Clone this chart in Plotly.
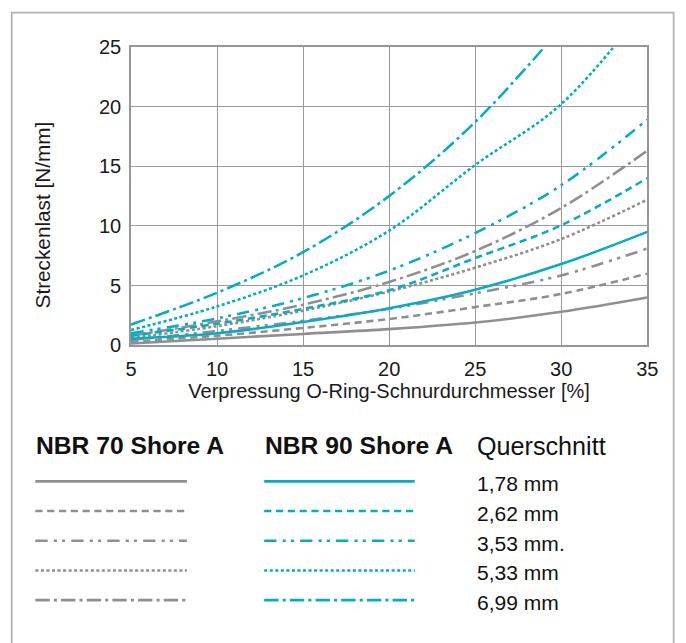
import plotly.graph_objects as go

# Compression of the O-ring cross-section [%]
compression = [5, 10, 15, 20, 25, 30, 35]

# Cross-section sizes
sizes = ["1,78 mm", "2,62 mm", "3,53 mm.", "5,33 mm", "6,99 mm"]

# Line load [N/mm], NBR 70 Shore A
nbr70_178 = [0.15, 0.55, 0.95, 1.35, 1.9, 2.8, 4.0]
nbr70_262 = [0.3, 0.8, 1.45, 2.2, 3.2, 4.3, 6.0]
nbr70_353 = [0.45, 1.2, 2.05, 3.05, 4.35, 5.85, 8.1]
nbr70_533 = [0.6, 1.6, 2.9, 4.5, 6.5, 8.9, 12.2]
nbr70_699 = [0.8, 2.0, 3.4, 5.3, 7.9, 11.5, 16.3]

# Line load [N/mm], NBR 90 Shore A (None = beyond the plotted range)
nbr90_178 = [0.55, 1.0, 1.95, 3.1, 4.65, 6.8, 9.5]
nbr90_262 = [0.8, 1.8, 3.05, 4.6, 7.3, 10.05, 14.0]
nbr90_353 = [1.0, 2.25, 3.95, 6.25, 9.4, 13.4, 18.9]
nbr90_533 = [1.27, 3.25, 5.85, 9.6, 15.1, 20.2, 28.5]
nbr90_699 = [1.74, 4.4, 7.8, 12.5, 18.7, 26.6, None]

series70 = [nbr70_178, nbr70_262, nbr70_353, nbr70_533, nbr70_699]
series90 = [nbr90_178, nbr90_262, nbr90_353, nbr90_533, nbr90_699]

# Figure size and the page box it sits in (default 8px body margin)
W, H = 686, 643
OFF = 8
KX = 706 / W
KY = (H + 2 * OFF) / H
K = (KX + KY) / 2


def fx(p):
    """Layout position (px on the final canvas) -> paper x fraction."""
    return (p * KX - OFF) / W


def fy(p):
    return 1 - (p * KY - OFF) / H


def px(v):
    return round(v * K, 2)


GREY = "#8f8f8f"
CYAN = "#03adc6"
DASH_PATTERNS = [
    None,
    [7, 4.5],
    [12, 6, 3, 5, 3, 6],
    [3, 2.4],
    [14, 4, 3, 4],
]
DASHES = ["solid" if d is None else ",".join(f"{px(v)}px" for v in d)
          for d in DASH_PATTERNS]
LW = px(2.5)
SANS = "Liberation Sans, Arial, sans-serif"
TEXT = "#1a1a1a"

fig = go.Figure()


def clean(xs, ys):
    pts = [(x, y) for x, y in zip(xs, ys) if y is not None]
    return [p[0] for p in pts], [p[1] for p in pts]


# Curves: grey NBR 70 first, cyan NBR 90 on top
for color, group in ((GREY, series70), (CYAN, series90)):
    for vals, dash in zip(group, DASHES):
        xs, ys = clean(compression, vals)
        fig.add_trace(go.Scatter(
            x=xs, y=ys, mode="lines", line_shape="spline",
            line=dict(color=color, width=LW, dash=dash),
            showlegend=False, hoverinfo="skip",
            xaxis="x", yaxis="y",
        ))

# Legend block drawn on a hidden canvas-pixel axis
COL70 = (37, 188)
COL90 = (265, 415)
LABEL_X = 476
ROW0, ROW_STEP = 483, 30
HEAD_Y = 447

for i, dash in enumerate(DASHES):
    yrow = ROW0 + i * ROW_STEP
    for color, (xa, xb) in ((GREY, COL70), (CYAN, COL90)):
        fig.add_trace(go.Scatter(
            x=[xa, xb], y=[yrow, yrow], mode="lines",
            line=dict(color=color, width=LW, dash=dash),
            showlegend=False, hoverinfo="skip",
            xaxis="x2", yaxis="y2",
        ))

annotations = []
for text, x0, bold in (("NBR 70 Shore A", COL70[0], True),
                       ("NBR 90 Shore A", COL90[0], True),
                       ("Querschnitt", LABEL_X, False)):
    annotations.append(dict(
        x=x0 - 1, y=HEAD_Y, xref="x2", yref="y2",
        text=f"<b>{text}</b>" if bold else text,
        showarrow=False, xanchor="left", yanchor="middle",
        font=dict(family=SANS, size=px(24 if bold else 24.5), color="#111111"),
    ))
for i, label in enumerate(sizes):
    annotations.append(dict(
        x=LABEL_X - 1, y=ROW0 + i * ROW_STEP + 2.5, xref="x2", yref="y2",
        text=label, showarrow=False, xanchor="left", yanchor="middle",
        font=dict(family=SANS, size=px(20.5), color="#111111"),
    ))

# Y-axis title, set a little below the middle of the plot area
annotations.append(dict(
    x=44, y=214, xref="x2", yref="y2", text="Streckenlast [N/mm]",
    textangle=-90, showarrow=False, xanchor="center", yanchor="middle",
    font=dict(family=SANS, size=px(20.2), color=TEXT),
))

# Plot area edges on the canvas
PL, PR, PT, PB = 132.3, 646.7, 44.0, 345.5

axis_common = dict(
    showgrid=True, gridcolor="#9a9a9a", gridwidth=1,
    showline=True, linecolor="#969696", linewidth=1.6, mirror=True,
    ticks="outside", tickcolor="rgba(0,0,0,0)", zeroline=False,
    tickfont=dict(family=SANS, size=px(19.5), color=TEXT),
)

fig.update_layout(
    width=W, height=H,
    margin=dict(l=0, r=0, t=0, b=0),
    paper_bgcolor="white", plot_bgcolor="rgba(0,0,0,0)",
    xaxis=dict(
        domain=[fx(PL), fx(PR)], range=[5, 35],
        tickvals=[5, 10, 15, 20, 25, 30, 35], ticklen=5,
        title=dict(text="Verpressung O-Ring-Schnurdurchmesser [%]",
                   font=dict(family=SANS, size=px(19.5), color=TEXT), standoff=5),
        anchor="y", **axis_common,
    ),
    yaxis=dict(
        domain=[fy(PB), fy(PT)], range=[0, 25],
        tickvals=[0, 5, 10, 15, 20, 25], ticklen=4,
        anchor="x", **axis_common,
    ),
    xaxis2=dict(domain=[0, 1], range=[OFF / KX, (W + OFF) / KX], visible=False,
                fixedrange=True, anchor="y2"),
    yaxis2=dict(domain=[0, 1], range=[(H + OFF) / KY, OFF / KY], visible=False,
                fixedrange=True, anchor="x2"),
    annotations=annotations,
    shapes=[dict(
        type="rect", xref="paper", yref="paper",
        x0=fx(13.5), x1=min(fx(677.3), 684.6 / W), y0=-0.05, y1=fy(9.5),
        line=dict(color="#b3b3b3", width=1.8), fillcolor="rgba(0,0,0,0)",
        layer="below",
    )],
)

fig.write_html("out.html")
